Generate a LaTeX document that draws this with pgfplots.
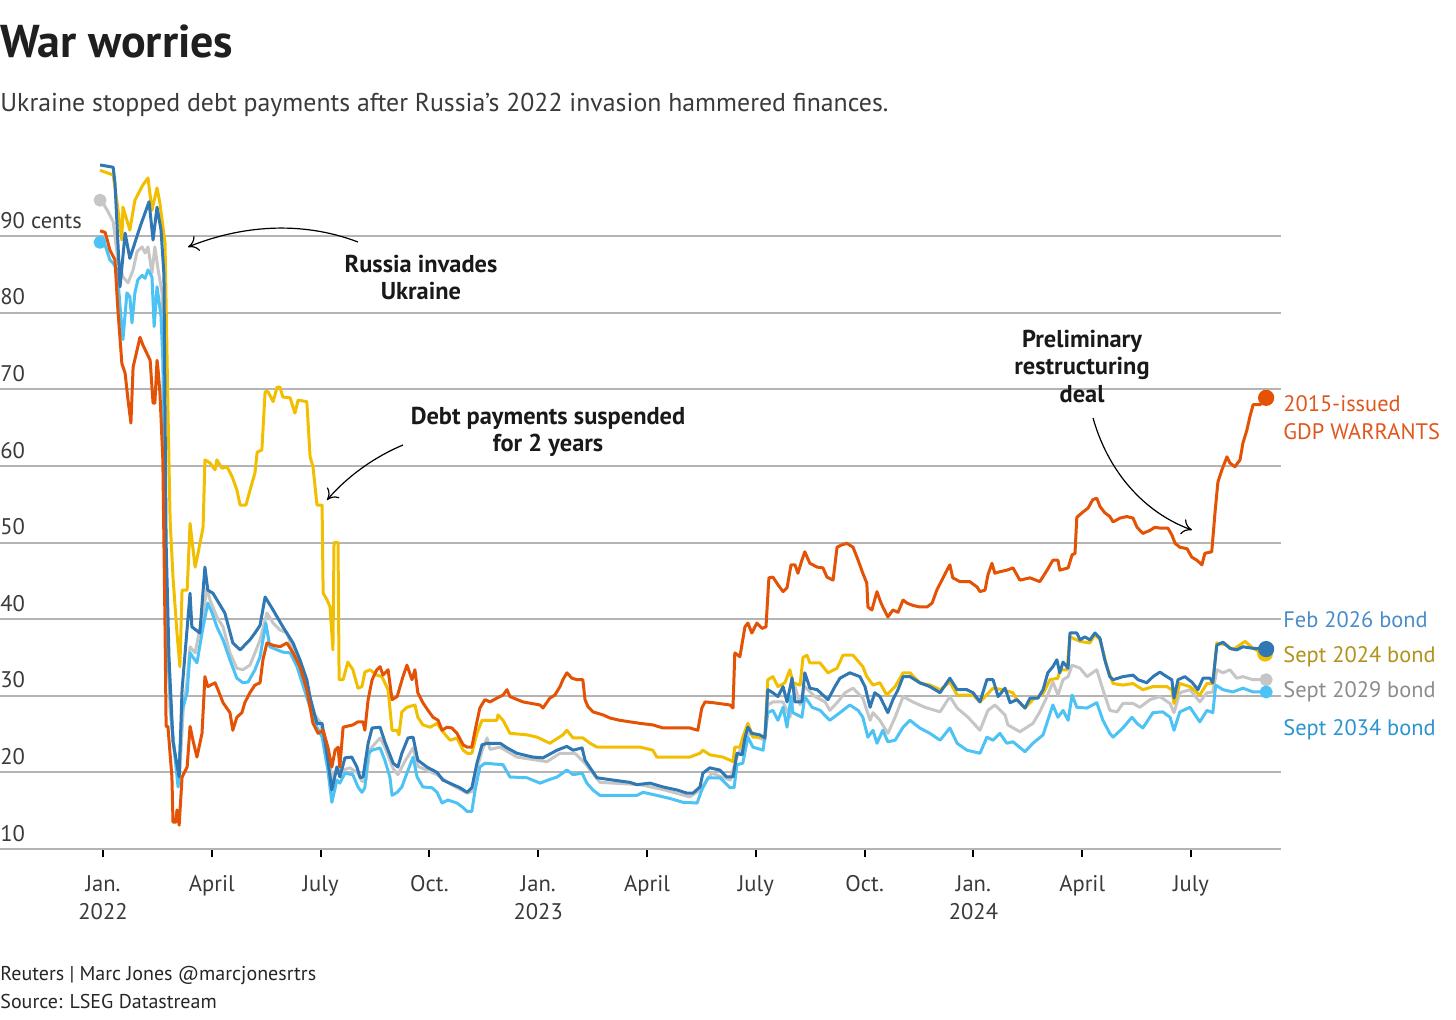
\documentclass[border=0pt]{standalone}
\usepackage{fontspec}
\setmainfont{PT Sans}
\usepackage{pgfplots}
\pgfplotsset{compat=1.18}
\usetikzlibrary{arrows.meta}
\definecolor{cOrange}{HTML}{E35205}
\definecolor{cYellow}{HTML}{F2BE00}
\definecolor{cDark}{HTML}{2F78B4}
\definecolor{cGray}{HTML}{C6C6C6}
\definecolor{cLight}{HTML}{4CC2F5}
\definecolor{tOrange}{HTML}{E0561C}
\definecolor{tDark}{HTML}{4A8CC8}
\definecolor{tYellow}{HTML}{B0921C}
\definecolor{tGray}{HTML}{8C8C8C}
\definecolor{tLight}{HTML}{2A94D0}
\definecolor{gridgray}{HTML}{B4B4B4}
\definecolor{txt}{HTML}{3A3A3A}
\begin{document}
\begin{tikzpicture}
\path[use as bounding box] (0pt,0pt) rectangle (728pt,-510pt);
\begin{axis}[
  at={(0pt,-424.5pt)}, anchor=south west,
  scale only axis, width=640.5pt, height=344.7pt,
  xmin=-2.84, xmax=32.48, ymin=10, ymax=100,
  separate axis lines,
  axis x line*=bottom, axis y line*=left,
  x axis line style={draw=gridgray, line width=1pt},
  y axis line style={draw=none},
  ytick={10,20,30,40,50,60,70,80,90},
  yticklabels={10,20,30,40,50,60,70,80,90 cents},
  ymajorgrids, grid style={draw=gridgray, line width=1pt},
  ytick style={draw=none},
  xtick={0,3,6,9,12,15,18,21,24,27,30},
  xticklabels={{Jan.\\2022},April,July,Oct.,{Jan.\\2023},April,July,Oct.,{Jan.\\2024},April,July},
  xtick align=outside, major tick length=4pt,
  xtick style={draw=black, line width=1pt},
  tick label style={font=\fontsize{11.3}{14}\selectfont, text=txt},
  xticklabel style={align=center, anchor=north, inner sep=0pt, yshift=-9pt},
  yticklabel style={anchor=base west, inner sep=0pt, yshift=4pt},
  every axis plot/.append style={line width=1.5pt, line join=round},
]
% Sept 2029 bond (gray)
\addplot[cGray, mark=none] coordinates {
(-0.08,94.7)(0.00,94.3)(0.14,93.2)(0.28,91.9)(0.41,86.9)(0.55,84.7)(0.69,83.9)(0.83,85.6)(0.94,88)(1.08,88.6)(1.16,87.8)(1.24,88.6)(1.35,85.2)(1.43,88.6)(1.52,85.6)(1.63,82.6)(1.68,70)(1.74,45)(1.85,28)(1.99,22)(2.10,18.5)(2.21,28)(2.32,32)(2.40,36.4)(2.54,35.6)(2.76,40.8)(2.87,44.2)(2.95,42.5)(3.14,40.3)(3.31,39)(3.50,35.6)(3.69,33.6)(3.86,33.4)(4.05,34)(4.19,35.6)(4.33,37.3)(4.52,40.8)(4.69,39.5)(4.88,38.6)(5.07,38.2)(5.24,36)(5.43,33.8)(5.62,31.2)(5.79,27.8)(5.98,26.6)(6.18,22.5)(6.34,19)(6.45,20.7)(6.62,20.3)(6.81,20.6)(7.03,19.9)(7.14,18.8)(7.25,19)(7.36,23)(7.64,24.5)(7.77,23.3)(8.00,20.5)(8.13,19.7)(8.33,21.5)(8.55,23.2)(8.68,20.8)(9.21,19.7)(9.57,18.5)(10.04,17.3)(10.17,17.5)(10.31,20.5)(10.45,22.8)(10.59,24.5)(10.67,23)(10.95,23.3)(11.41,22)(12.24,21.4)(12.60,22.5)(13.01,22.5)(13.29,21.2)(13.70,18.7)(14.81,18.4)(15.49,17.7)(16.18,16.8)(16.46,17.7)(16.79,19.9)(17.29,19)(17.48,22)(17.78,25.1)(18.25,24.2)(18.33,28.8)(18.47,29.2)(18.75,29.2)(18.94,27.2)(19.08,31.2)(19.22,28.8)(19.35,31.2)(19.63,29.9)(19.91,29.2)(20.04,28.1)(20.26,29.2)(20.46,30.4)(20.68,31)(20.95,29.7)(21.15,26.8)(21.23,27.8)(21.42,26.8)(21.64,25.1)(21.84,27.2)(22.06,29.9)(22.33,29.2)(22.66,28.5)(23.08,27.9)(23.35,29.9)(23.55,28.4)(23.85,27.2)(24.18,25.5)(24.40,28.1)(24.59,28.8)(24.87,27.5)(24.95,26.2)(25.28,25.3)(25.64,26.4)(25.83,27.9)(26.03,29.9)(26.19,31.8)(26.33,30.1)(26.47,32.1)(26.61,32.5)(26.72,34)(26.94,33.6)(27.13,32.5)(27.40,33.4)(27.57,30.8)(27.76,28.1)(27.96,27.9)(28.12,29)(28.40,29)(28.59,28.5)(28.87,29.5)(29.14,29.9)(29.42,29)(29.53,27.8)(29.69,30.4)(29.97,30.8)(30.24,29.2)(30.44,30.4)(30.60,30.5)(30.71,33.4)(30.88,33)(31.07,33.4)(31.26,32.3)(31.43,32.5)(31.71,32.1)(32.04,32.1)
};
% Sept 2034 bond (light blue)
\addplot[cLight, mark=none] coordinates {
(-0.08,89.2)(0.06,88.8)(0.19,86.9)(0.28,86.5)(0.39,85.6)(0.47,80.8)(0.55,76.5)(0.66,82.6)(0.74,82.1)(0.80,78.7)(0.88,82.6)(0.96,84.3)(1.08,84.9)(1.16,84.5)(1.24,85.6)(1.35,84.7)(1.41,78.2)(1.49,83.4)(1.60,79.5)(1.65,73.8)(1.71,50)(1.79,35)(1.90,26)(2.07,18.1)(2.18,28.1)(2.32,30.4)(2.40,35.6)(2.59,34.3)(2.76,39)(2.89,42.1)(3.01,40.8)(3.14,39)(3.31,37.3)(3.50,34.7)(3.69,32.3)(3.86,31.7)(4.00,31.8)(4.19,33.4)(4.33,35.1)(4.49,39.5)(4.60,36.4)(4.80,36)(4.96,35.7)(5.16,35.6)(5.35,33.8)(5.51,31.4)(5.71,28.5)(5.90,25.9)(6.04,24.6)(6.20,20.3)(6.31,16.1)(6.45,19)(6.53,18.6)(6.67,19.9)(6.89,19.7)(7.03,18.1)(7.14,17.4)(7.22,18)(7.31,22.5)(7.42,22.9)(7.64,23.2)(7.77,21.6)(7.91,19.4)(7.97,17)(8.11,17.4)(8.24,18.1)(8.38,19.9)(8.55,22)(8.66,19.4)(8.82,18.1)(9.07,18)(9.21,17.4)(9.35,16)(9.51,16.4)(9.76,16)(9.93,15.4)(10.04,14.9)(10.17,14.9)(10.26,17.7)(10.39,20.7)(10.53,21.2)(11.03,21)(11.22,19.4)(11.69,19.3)(12.05,18.6)(12.27,19)(12.52,19.4)(12.79,20.3)(12.96,19.7)(13.21,19.9)(13.34,18.6)(13.51,17.7)(13.70,17)(14.72,17)(14.89,17.4)(15.27,17)(15.63,16.6)(15.99,16.1)(16.38,16)(16.51,17.7)(16.68,19.3)(17.01,19.3)(17.29,18)(17.40,18)(17.48,21)(17.64,21.2)(17.78,24.6)(17.92,23.3)(18.20,22.9)(18.33,27.8)(18.47,28.1)(18.61,26.8)(18.75,28.5)(18.86,25.9)(18.97,29.9)(19.02,27.8)(19.27,27.2)(19.35,29.9)(19.55,28.5)(19.77,28.1)(20.04,26.8)(20.32,27.8)(20.59,28.8)(20.82,28.1)(20.95,27.2)(21.09,24.6)(21.23,25.5)(21.34,23.8)(21.50,25.5)(21.64,24)(21.84,24.2)(22.06,25.9)(22.25,26.8)(22.52,25.8)(22.80,25.1)(23.08,24.2)(23.35,25.8)(23.55,23.8)(23.82,22.9)(24.18,22.5)(24.37,24.6)(24.54,24.2)(24.73,25.1)(24.92,23.8)(25.09,24)(25.42,22.7)(25.64,23.8)(25.92,24.9)(26.05,26.8)(26.19,28.8)(26.33,27.2)(26.47,28.1)(26.61,26.8)(26.72,30.1)(26.85,28.5)(27.13,28.4)(27.40,29.1)(27.57,26.8)(27.76,25.1)(27.85,24.6)(28.12,25.8)(28.37,27.2)(28.51,26.4)(28.67,25.8)(28.95,27.8)(29.22,27.9)(29.42,27.2)(29.53,25.5)(29.69,27.9)(29.97,28.5)(30.24,26.6)(30.44,28.1)(30.60,27.8)(30.68,31.4)(30.88,30.8)(31.15,30.5)(31.43,31)(31.71,30.5)(32.04,30.5)
};
% Sept 2024 bond (yellow)
\addplot[cYellow, mark=none] coordinates {
(-0.08,98.6)(0.28,98)(0.39,94.3)(0.52,89.5)(0.55,93.8)(0.74,90.8)(0.88,94.7)(1.10,96.7)(1.24,97.6)(1.35,93.4)(1.49,96.3)(1.57,94.3)(1.71,89.1)(1.79,67.7)(1.85,53)(1.93,45.5)(2.04,38.2)(2.12,33.8)(2.18,43.8)(2.32,43.8)(2.40,52.5)(2.54,46.8)(2.62,48.6)(2.76,52)(2.81,60.8)(2.95,60.4)(3.09,59.5)(3.14,60.8)(3.28,59.7)(3.42,59.9)(3.56,58.6)(3.69,56.9)(3.78,54.9)(3.94,54.9)(4.11,57.8)(4.19,59.1)(4.25,61.8)(4.38,62.1)(4.47,69.7)(4.55,69.7)(4.69,68.4)(4.80,70.3)(4.88,70.3)(4.96,69)(5.16,68.9)(5.29,66.9)(5.38,68.6)(5.62,68.4)(5.71,61.2)(5.79,59.9)(5.90,54.9)(6.04,54.9)(6.07,43.4)(6.18,42.5)(6.26,41.6)(6.34,36)(6.37,50)(6.48,50)(6.51,32.1)(6.62,32.1)(6.75,34.4)(6.89,33.4)(7.03,31)(7.14,31.2)(7.22,33.1)(7.36,33.4)(7.55,32.7)(7.69,32.5)(7.86,30.8)(7.97,25.5)(8.11,25.5)(8.16,24.9)(8.24,27.9)(8.38,28.5)(8.60,28.8)(8.68,27.2)(8.82,26.2)(9.02,25.9)(9.21,26.4)(9.37,25.3)(9.57,24.2)(9.76,24.5)(9.93,22.9)(10.04,22.5)(10.17,22.5)(10.31,25.1)(10.45,26.8)(10.86,26.8)(10.89,27.5)(11.03,26.8)(11.22,25.1)(11.69,24.9)(11.97,24.6)(12.32,23.8)(12.68,24.9)(12.79,25.5)(12.96,24.5)(13.23,24.5)(13.43,23.8)(13.62,23.3)(14.81,23.3)(15.16,22.9)(15.27,22)(16.18,22)(16.46,22.5)(16.54,22.9)(16.73,22.3)(17.09,22)(17.29,21.6)(17.37,21.4)(17.42,23.3)(17.56,23.3)(17.64,24.6)(17.78,26.4)(17.92,24.6)(18.25,24.6)(18.33,32.1)(18.47,32.5)(18.61,31.2)(18.80,31.7)(18.94,33.4)(19.02,31.7)(19.22,31.4)(19.30,35)(19.41,35.3)(19.49,34.3)(19.77,34.3)(19.99,33)(20.24,33.6)(20.40,35.3)(20.68,35.3)(20.95,33.8)(21.06,32.5)(21.23,31.4)(21.42,31.7)(21.61,30.1)(21.84,31.2)(22.06,33)(22.25,33)(22.52,31.7)(22.80,31.4)(23.08,30.8)(23.35,31.8)(23.55,30.1)(23.99,30.1)(24.18,29.2)(24.54,31)(24.81,30.8)(25.09,30.4)(25.20,29.5)(25.42,28.4)(25.64,29.5)(25.92,30.3)(26.11,32.1)(26.33,32.3)(26.38,33.4)(26.58,33.4)(26.66,37.7)(26.94,37.1)(27.21,36.9)(27.35,38)(27.49,37.3)(27.68,33.8)(27.85,31.6)(28.12,31.4)(28.40,31.6)(28.67,30.8)(28.95,31.2)(29.33,31.2)(29.47,30.8)(29.53,29)(29.69,31.6)(29.97,31.2)(30.24,30.1)(30.44,31.6)(30.60,31.6)(30.71,36.9)(30.99,36.6)(31.15,36)(31.49,37.1)(31.71,36.2)(31.98,35.5)(32.04,35.5)
};
% Feb 2026 bond (dark blue)
\addplot[cDark, mark=none] coordinates {
(-0.08,99.3)(0.28,99.0)(0.33,97.0)(0.47,83.4)(0.61,90.4)(0.74,87.1)(1.02,91.2)(1.27,94.5)(1.38,89.5)(1.49,93.8)(1.60,90.8)(1.68,85)(1.74,50)(1.82,35)(1.93,24)(2.10,19.4)(2.18,30.8)(2.40,43.4)(2.45,39)(2.67,38.2)(2.81,46.8)(2.89,43.8)(3.03,43.4)(3.36,40.8)(3.58,36.9)(3.78,36)(4.05,37.3)(4.19,38.2)(4.33,39.2)(4.47,42.9)(4.69,41.2)(4.96,39)(5.24,36.9)(5.43,34.7)(5.62,32.1)(5.71,29.8)(5.90,26.4)(6.04,26.4)(6.20,21.6)(6.31,17.7)(6.45,20.7)(6.53,19.4)(6.67,21.9)(6.86,22)(7.00,20.7)(7.09,19.3)(7.17,19.4)(7.31,23.8)(7.42,25.8)(7.64,25.9)(7.77,24)(8.00,21.2)(8.13,20.7)(8.24,22.5)(8.41,24.5)(8.55,24.6)(8.68,21.6)(8.93,20.7)(9.21,20)(9.37,19)(9.65,18.4)(9.84,18)(10.04,17.4)(10.17,18)(10.31,21.2)(10.45,23.6)(10.59,23.8)(10.95,23.8)(11.14,23.2)(11.41,22.5)(11.85,22)(12.13,21.9)(12.52,22.9)(12.79,23.4)(12.96,22.9)(13.21,23.2)(13.29,21.6)(13.43,20.6)(13.62,19.3)(14.06,19)(14.53,18.7)(14.72,18.4)(15.08,18.6)(15.44,18.1)(15.83,17.7)(16.10,17.3)(16.27,17.3)(16.46,18.1)(16.54,19.9)(16.73,20.6)(17.01,20.3)(17.20,19.4)(17.37,19.4)(17.48,22.5)(17.62,22.3)(17.70,24.5)(17.78,25.9)(17.89,25.1)(18.11,24.9)(18.25,24.5)(18.33,30.8)(18.47,30.4)(18.61,29.9)(18.75,31.2)(18.86,29.2)(19.00,32.3)(19.08,29.2)(19.27,29.2)(19.35,33)(19.49,31)(19.69,30.8)(19.85,30.1)(19.99,29.5)(20.18,31.2)(20.32,32.3)(20.59,33)(20.87,32.5)(21.01,31.2)(21.15,28.5)(21.28,30.4)(21.42,29.9)(21.64,27.8)(21.78,29.5)(21.92,30.8)(22.06,32.5)(22.25,32.5)(22.52,31.7)(22.80,31.2)(23.08,30.4)(23.35,32.3)(23.55,30.8)(23.82,30.8)(23.99,30.4)(24.18,29.2)(24.37,32.1)(24.54,32.1)(24.68,29.9)(24.87,31)(25.01,29.1)(25.20,29.5)(25.42,28.4)(25.56,29.7)(25.78,29.7)(25.92,30.8)(26.05,33)(26.19,33.8)(26.30,34.7)(26.38,33)(26.47,34.4)(26.61,33.6)(26.66,38.2)(26.85,38.2)(26.94,37.3)(27.07,37.7)(27.21,37.3)(27.35,38.2)(27.49,37.5)(27.62,34.7)(27.76,32.5)(27.85,32.1)(28.12,32.5)(28.40,32.7)(28.54,32.1)(28.78,31.7)(28.95,32.5)(29.14,33.1)(29.33,32.5)(29.47,32.1)(29.53,29.7)(29.64,32.1)(29.83,32.5)(30.02,31.8)(30.19,30.8)(30.33,32.3)(30.52,32.3)(30.60,31.7)(30.71,36.6)(30.88,37)(31.07,36.2)(31.26,36)(31.43,36.4)(31.71,36.2)(32.04,36.1)
};
% 2015-issued GDP warrants (orange)
\addplot[cOrange, mark=none] coordinates {
(-0.08,90.7)(0.06,90.5)(0.19,88.2)(0.33,86.9)(0.41,80.4)(0.52,73.4)(0.61,72.1)(0.69,68.6)(0.77,65.6)(0.83,72.9)(1.02,76.8)(1.10,75.8)(1.21,74.7)(1.30,73.8)(1.38,68.2)(1.43,68.2)(1.49,73.8)(1.52,72.5)(1.57,69.5)(1.65,60.8)(1.71,39)(1.74,26)(1.79,26)(1.90,19.4)(1.93,13.5)(2.01,13.5)(2.04,15.1)(2.10,13.1)(2.18,19.4)(2.32,20.7)(2.40,26)(2.48,24.2)(2.59,22)(2.73,25.1)(2.81,32.5)(2.89,31.2)(3.09,31.7)(3.17,30.8)(3.31,29.1)(3.50,27.8)(3.58,25.5)(3.69,27.2)(3.83,27.8)(3.91,29.1)(4.05,30.4)(4.19,31.4)(4.33,31.7)(4.41,34.7)(4.52,36.9)(4.69,36.6)(4.88,36.4)(5.07,36.9)(5.24,35.6)(5.43,33.8)(5.62,30.8)(5.79,26.4)(5.93,25.1)(6.07,25.5)(6.20,23.3)(6.31,20.7)(6.40,22.9)(6.48,23.3)(6.53,20.7)(6.62,25.9)(6.89,26.2)(7.03,26.6)(7.17,26.6)(7.22,25.5)(7.31,29.5)(7.42,32.1)(7.55,33.4)(7.64,33.8)(7.72,32.7)(7.86,33.4)(7.97,29.5)(8.11,29.9)(8.19,31.2)(8.27,32.5)(8.38,34)(8.52,32.1)(8.60,33.4)(8.68,30.4)(8.82,29.1)(8.96,28.1)(9.10,27.2)(9.24,26.8)(9.35,25.5)(9.48,25.9)(9.62,25.8)(9.76,25.1)(9.93,23.6)(10.04,23.3)(10.17,23.3)(10.26,25.5)(10.39,28.4)(10.53,29.5)(10.67,29.2)(10.86,29.7)(11.03,30.1)(11.14,30.8)(11.22,29.9)(11.58,29.2)(12.05,28.8)(12.13,28.4)(12.32,29.7)(12.46,30.1)(12.60,31.2)(12.68,32.1)(12.79,33)(12.93,32.3)(13.07,32.1)(13.23,32.1)(13.29,29.5)(13.37,28.6)(13.51,27.9)(13.79,27.5)(13.98,27.1)(14.25,26.8)(14.53,26.6)(14.81,26.4)(15.16,26.2)(15.44,25.8)(16.18,25.8)(16.40,25.5)(16.51,28.4)(16.60,29.2)(16.82,29.1)(17.29,28.8)(17.37,28.4)(17.42,35.6)(17.56,35.1)(17.70,39)(17.78,39.5)(17.89,38.2)(18.03,39.5)(18.17,38.8)(18.28,39)(18.36,45.4)(18.47,45.5)(18.61,44.5)(18.75,43.6)(18.86,44.1)(18.97,47.1)(19.08,47.1)(19.16,46)(19.27,47.7)(19.35,48.8)(19.49,47.3)(19.69,46.8)(19.85,46.7)(19.96,45.5)(20.13,45.1)(20.24,49.4)(20.37,49.7)(20.51,49.9)(20.68,49.4)(20.82,47.7)(20.95,46)(21.06,44.7)(21.09,41.6)(21.20,41.2)(21.34,43.6)(21.42,42.5)(21.50,41.6)(21.64,40.3)(21.78,41.2)(21.92,40.9)(22.06,42.5)(22.17,42.1)(22.33,41.8)(22.52,41.6)(22.72,41.6)(22.86,42.1)(22.99,43.8)(23.13,45.1)(23.27,46.4)(23.35,47.1)(23.43,45.4)(23.63,44.9)(23.90,44.9)(24.10,44.2)(24.18,43.6)(24.32,43.8)(24.40,45.8)(24.51,47.3)(24.59,46)(24.73,46.2)(24.92,46.4)(25.09,46.7)(25.28,45.1)(25.56,45.4)(25.83,44.9)(26.03,46.4)(26.19,47.7)(26.33,47.7)(26.38,46.4)(26.61,46.7)(26.72,48.4)(26.80,48.6)(26.85,53.3)(27.02,54)(27.16,54.5)(27.29,55.6)(27.40,55.8)(27.49,54.7)(27.62,53.9)(27.76,53.4)(27.85,52.7)(28.04,53.2)(28.23,53.4)(28.40,53.2)(28.51,52)(28.67,51.2)(28.87,51.6)(29.00,52)(29.14,51.9)(29.36,51.9)(29.47,51)(29.56,49.9)(29.69,49.4)(29.89,49.2)(30.02,48.1)(30.16,47.7)(30.30,47.1)(30.38,48.6)(30.57,48.8)(30.66,53.9)(30.74,57.9)(30.85,59.5)(30.99,61.2)(31.07,60.4)(31.21,59.9)(31.35,60.8)(31.43,63)(31.54,64.7)(31.62,66.4)(31.71,68)(31.90,68)(32.07,68.9)
};
% start and end dots
\addplot[only marks, mark=*, mark size=2.5pt, cGray] coordinates {(-0.08,94.7)(32.07,32.1)};
\addplot[only marks, mark=*, mark size=2.5pt, cLight] coordinates {(-0.08,89.2)(32.07,30.5)};
\addplot[only marks, mark=*, mark size=3.2pt, cYellow] coordinates {(32.04,35.5)};
\addplot[only marks, mark=*, mark size=3.3pt, cDark] coordinates {(32.07,36.1)};
\addplot[only marks, mark=*, mark size=3.3pt, cOrange] coordinates {(32.07,68.9)};
\end{axis}
\begin{scope}[x=0.5pt,y=-0.5pt]
\node[anchor=base west, inner sep=0pt, text=black!88, font=\fontsize{23}{26}\selectfont\bfseries] at (0,58) {War worries};
\node[anchor=base west, inner sep=0pt, text=txt, font=\fontsize{12.9}{16}\selectfont] at (0,112) {Ukraine stopped debt payments after Russia{\char"27}s 2022 invasion hammered finances.};
% annotations
\begin{scope}[font=\fontsize{12.2}{14}\selectfont\bfseries, every node/.style={anchor=base, inner sep=0pt, text=black!90}]
\node at (421,273) {Russia invades};
\node at (421,300) {Ukraine};
\node at (548,425) {Debt payments suspended};
\node at (548,452) {for 2 years};
\node at (1082,348) {Preliminary};
\node at (1082,375) {restructuring};
\node at (1082,403) {deal};
\end{scope}
\draw[black, line width=0.6pt, -{To[length=5pt,width=8pt]}] (358,242) .. controls (300,220) and (240,226) .. (188,247);
\draw[black, line width=0.6pt, -{To[length=5pt,width=8pt]}] (403,445) .. controls (372,458) and (346,478) .. (327,500);
\draw[black, line width=0.6pt, -{To[length=5pt,width=8pt]}] (1093,418) .. controls (1110,478) and (1150,515) .. (1192,530);
% series labels
\begin{scope}[font=\fontsize{11.2}{14}\selectfont, every node/.style={anchor=base west, inner sep=0pt}]
\node[text=tOrange] at (1283,412) {2015-issued};
\node[text=tOrange] at (1283,440) {GDP WARRANTS};
\node[text=tDark] at (1283,628) {Feb 2026 bond};
\node[text=tYellow] at (1283,663) {Sept 2024 bond};
\node[text=tGray] at (1283,698) {Sept 2029 bond};
\node[text=tLight] at (1283,735) {Sept 2034 bond};
\end{scope}
% footer
\begin{scope}[font=\fontsize{10}{12}\selectfont, every node/.style={anchor=base west, inner sep=0pt, text=black!85}]
\node at (0,980) {Reuters | Marc Jones @marcjonesrtrs};
\node at (0,1008) {Source: LSEG Datastream};
\end{scope}
\end{scope}
\end{tikzpicture}
\end{document}
